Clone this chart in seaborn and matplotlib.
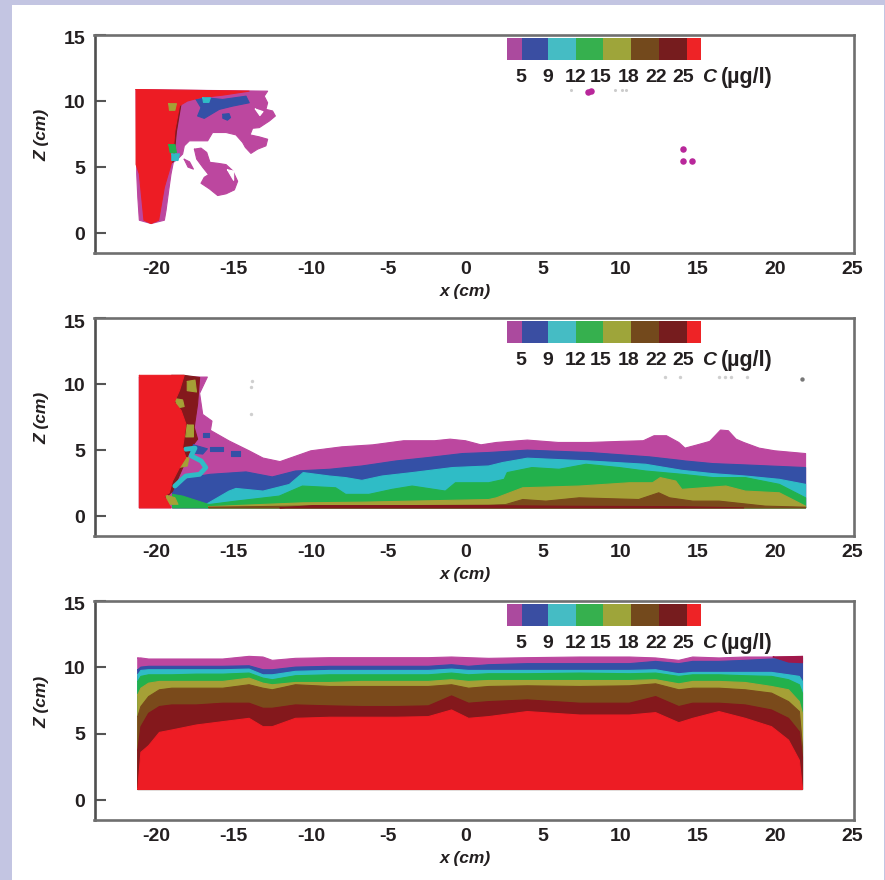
import numpy as np
import seaborn as sns
import matplotlib.pyplot as plt
from matplotlib.patches import Rectangle
from matplotlib.transforms import ScaledTranslation

# Colours of the classes, low to high
purple = "#bc479f"
blue = "#3450a6"
cyan = "#2fbcc6"
green = "#22b14c"
olive = "#a5a036"
brown = "#7a4a1b"
dark = "#84181c"
red = "#ed1c24"

# Legend
legend_colors = ["#ab4a9e", "#3a4ea2", "#45bcc4", "#36b04e", "#9ea53a", "#73491c", "#761c1e", "#ee2326"]
legend_edges = [2.68, 3.65, 5.33, 7.13, 8.88, 10.73, 12.5, 14.31, 15.21]
legend_labels = ["5", "9", "12", "15", "18", "22", "25"]
legend_label_x = [3.55, 5.3, 7.15, 8.71, 10.58, 12.33, 14.08]

x_ticks = [-20, -15, -10, -5, 0, 5, 10, 15, 20, 25]
z_ticks = [0, 5, 10, 15]

# --- Panel 1, early plume
p1_purple_x = [-21.31, -12.8, -13.02, -12.8, -12.91, -12.48, -12.3, -12.69, -13.34, -13.77, -13.94, -13.34, -12.8, -12.91, -13.45, -13.88, -14.24, -14.42, -14.85, -15.49, -16.36, -16.68, -17.22, -17.86, -18.19, -18.3, -18.62, -18.9, -19.05, -19.2, -19.37, -19.48, -20.34, -21.1, -21.2, -21.27]
p1_purple_z = [10.87, 10.75, 10.37, 9.87, 9.37, 9.25, 8.87, 8.49, 7.99, 7.94, 7.44, 7.29, 7.11, 6.61, 6.36, 6.04, 6.49, 6.87, 7.44, 7.62, 7.62, 6.99, 6.99, 6.99, 6.61, 5.99, 5.61, 5.36, 4.48, 3.23, 1.73, 0.98, 0.73, 0.98, 2.73, 4.48]
p1_blob_x = [-17.54, -17.11, -16.74, -16.53, -16.03, -15.49, -15.06, -14.74, -14.95, -15.49, -16.03, -16.57, -17.11, -16.9, -16.62, -17.0, -17.39]
p1_blob_z = [6.36, 6.44, 6.11, 5.36, 5.29, 5.19, 4.73, 3.93, 3.28, 2.98, 2.85, 3.36, 3.78, 4.23, 4.43, 4.99, 5.61]
p1_arm_x = [-18.2, -17.85, -17.6, -17.95]
p1_arm_z = [5.6, 5.4, 4.85, 5.0]
p1_blue_x = [-17.43, -16.79, -15.71, -14.2, -13.99, -15.06, -15.93, -16.9, -17.33, -17.11]
p1_blue_z = [10.12, 10.25, 10.12, 10.37, 9.87, 9.62, 9.37, 8.69, 8.87, 9.5]
p1_blue2_x = [-15.7, -15.3, -15.2, -15.4, -15.7]
p1_blue2_z = [9.0, 9.05, 8.75, 8.55, 8.7]
p1_dark_x = [-19.4, -18.4, -18.7, -18.9, -19.4, -19.4]
p1_dark_z = [9.8, 9.8, 7.7, 5.4, 5.2, 7.7]
p1_red_x = [-21.31, -14.0, -15.7, -17.2, -18.0, -18.5, -18.8, -18.95, -19.48, -19.85, -20.34, -20.8, -21.1, -21.31]
p1_red_z = [10.87, 10.75, 10.45, 10.25, 10.0, 9.65, 7.74, 5.6, 3.48, 0.98, 0.73, 0.98, 4.48, 5.2]
p1_green_x = [-19.2, -18.8, -18.7, -19.1]
p1_green_z = [6.7, 6.7, 6.1, 6.1]
p1_cyan_x = [-19.0, -18.5, -18.6, -19.0]
p1_cyan_z = [6.0, 6.0, 5.5, 5.5]
p1_cyan2_x = [-17.0, -16.5, -16.6, -16.95]
p1_cyan2_z = [10.25, 10.25, 9.9, 9.9]
p1_olive_x = [-19.2, -18.7, -18.8, -19.15]
p1_olive_z = [9.8, 9.8, 9.3, 9.3]
p1_hole_x = [-13.6, -13.1, -13.3]
p1_hole_z = [9.4, 9.2, 8.9]
p1_hole2_x = [-15.4, -15.0, -15.0]
p1_hole2_z = [4.8, 4.7, 4.0]
p1_speck_x = [14.1, 14.1, 14.65, 7.9, 8.1]
p1_speck_z = [6.35, 5.5, 5.5, 10.7, 10.75]
p1_grey_x = [6.8, 9.7, 10.1, 10.4]
p1_grey_z = [10.8, 10.8, 10.8, 10.8]

# --- Panel 2, current along the tank
p2_base = 0.63
p2_purple_x = [-21.1, -16.7, -17.2, -17.0, -16.4, -16.5, -15.3, -14.0, -13.1, -12, -10, -8, -6, -4, -2, -1, 0, 1, 2, 4, 6, 8, 10, 11.5, 12.2, 13, 13.8, 14.2, 15, 15.8, 16.5, 17, 17.5, 18, 19, 20, 22]
p2_purple_z = [10.53, 10.53, 9.3, 7.7, 7.2, 6.5, 5.7, 4.95, 4.4, 4.13, 4.95, 5.25, 5.4, 5.71, 5.71, 5.83, 5.71, 5.4, 5.58, 5.76, 5.58, 5.58, 5.66, 5.71, 6.09, 6.09, 5.58, 5.15, 5.4, 5.66, 6.52, 6.47, 5.83, 5.58, 5.15, 4.95, 4.74]
p2_blue_x = [-18.95, -17.9, -16.5, -14.2, -12.5, -11, -8.8, -6.7, -4.5, -2.4, -0.2, 1.5, 4, 8, 11.9, 13.8, 14.2, 16, 18.1, 22]
p2_blue_z = [2.03, 2.92, 3.17, 3.35, 2.97, 3.42, 3.55, 3.8, 4.18, 4.44, 4.74, 4.82, 5.0, 4.82, 4.49, 4.24, 4.18, 3.98, 3.88, 3.68]
p2_cyan_x = [-16.8, -15.3, -14.85, -13.1, -11.4, -10.5, -8.8, -7.75, -6.7, -5.4, -3.45, -0.85, 1.5, 2.4, 4, 8, 11.65, 14, 16, 18.1, 20.3, 22]
p2_cyan_z = [0.88, 1.9, 2.1, 1.9, 2.4, 3.3, 3.04, 2.92, 2.71, 3.04, 3.3, 3.68, 3.8, 4.06, 4.39, 4.18, 3.93, 3.47, 3.22, 3.04, 2.79, 2.41]
p2_green_x = [-18.95, -18.3, -16.6, -14.85, -12.05, -10.55, -8.4, -7.75, -6.25, -4.75, -3.45, -1.3, -0.65, 1.5, 2.5, 2.7, 4.3, 6.05, 7.8, 9.95, 11.65, 14, 16, 18.1, 20.3, 22]
p2_green_z = [1.65, 1.52, 0.88, 1.14, 1.52, 2.28, 2.15, 1.65, 1.65, 2.03, 2.28, 1.9, 2.53, 2.53, 2.79, 3.3, 3.68, 3.55, 3.93, 3.68, 3.42, 3.17, 2.92, 2.92, 2.41, 1.39]
p2_olive_x = [-16.6, -10.55, -6.7, 1.5, 2, 3.7, 7.35, 10.6, 12.1, 12.6, 13.6, 14, 16.85, 18.1, 20.3, 22]
p2_olive_z = [0.72, 1.01, 1.06, 1.26, 1.39, 2.15, 2.28, 2.53, 2.53, 2.92, 2.66, 2.03, 2.28, 1.9, 1.77, 0.76]
p2_brown_x = [-16.6, -11, 1.5, 2.6, 3.7, 5.2, 7.35, 11.2, 12.5, 13.2, 14.7, 16.4, 19.4, 22]
p2_brown_z = [0.68, 0.76, 0.83, 0.88, 1.26, 1.14, 1.39, 1.26, 1.77, 1.39, 1.14, 1.14, 0.76, 0.68]
p2_dark_x = [-12, -9.9, 1.5, 7, 14, 18]
p2_dark_z = [0.63, 0.8, 0.8, 0.75, 0.72, 0.63]
p2_strip_x = [-19.0, -18.2, -17.2, -17.33, -17.55, -17.33, -17.66, -18.1, -18.95, -19.7, -19.7]
p2_strip_z = [10.66, 10.66, 10.5, 8.5, 6.72, 5.83, 5.33, 4.2, 1.9, 1.0, 8.0]
p2_red_x = [-21.1, -18.2, -18.5, -18.84, -18.4, -18.09, -18.2, -18.3, -18.09, -18.5, -18.95, -19.16, -19.49, -19.06, -21.1]
p2_red_z = [10.66, 10.66, 9.52, 8.63, 8.0, 6.98, 5.96, 5.2, 4.44, 3.68, 2.66, 1.77, 1.52, 0.63, 0.63]
p2_swirl_x = [-18.1, -17.5, -17.75, -17.1, -16.8, -17.2, -18.1, -18.8]
p2_swirl_z = [5.07, 5.15, 4.57, 4.18, 3.68, 3.17, 3.04, 2.28]
p2_swirl2_x = [-17.6, -16.7, -17.0, -17.8]
p2_swirl2_z = [5.4, 5.1, 4.7, 4.8]
p2_olive_patch_x = [[-18.0, -17.5, -17.4, -18.0], [-18.8, -18.3, -18.2, -18.6], [-18.0, -17.6, -17.6, -18.1], [-18.3, -17.9, -18.0, -18.5], [-19.4, -18.8, -18.6, -19.2]]
p2_olive_patch_z = [[10.2, 10.3, 9.4, 9.5], [8.9, 8.8, 8.3, 8.2], [6.9, 6.9, 6.0, 6.0], [4.5, 4.4, 3.8, 3.7], [1.6, 1.4, 0.9, 0.9]]
p2_blue_spots_x = [[-16.5, -15.7, -15.7, -16.5], [-15.2, -14.6, -14.6, -15.2], [-17.0, -16.6, -16.6, -17.0]]
p2_blue_spots_z = [[5.2, 5.2, 4.9, 4.9], [4.95, 4.95, 4.55, 4.55], [6.3, 6.3, 6.0, 6.0]]
p2_speck_x = [16.4, 16.8, 17.2, 18.2, -13.85, -13.8, -13.85, 12.9, 13.9]
p2_speck_z = [10.52, 10.52, 10.52, 10.5, 7.74, 10.2, 9.8, 10.5, 10.5]
p2_dot_x = [21.8]
p2_dot_z = [10.35]

# --- Panel 3, filled tank
p3_base = 0.8
p3_x = [-21.2, -21, -20.5, -19.8, -19, -17.4, -15.7, -14, -13.1, -12.5, -11, -8.8, -6.7, -4.5, -2.4, -0.9, 0.2, 1.5, 4, 7.4, 10.6, 12.3, 13.8, 14.7, 16.4, 18.1, 19.8, 20.9, 21.6, 21.8]
p3_purple = [10.71, 10.71, 10.63, 10.63, 10.63, 10.63, 10.63, 10.83, 10.78, 10.53, 10.68, 10.73, 10.73, 10.73, 10.73, 10.78, 10.73, 10.68, 10.73, 10.78, 10.78, 10.71, 10.53, 10.78, 10.71, 10.78, 10.78, 10.78, 10.78, 10.83]
p3_blue = [9.82, 10.02, 10.08, 10.08, 10.08, 10.08, 10.08, 10.12, 9.82, 9.82, 10.02, 10.08, 10.08, 10.08, 10.08, 10.2, 10.08, 10.2, 10.28, 10.28, 10.28, 10.45, 10.28, 10.45, 10.45, 10.53, 10.63, 10.71, 10.71, 10.71]
p3_cyan = [9.44, 9.77, 9.82, 9.82, 9.82, 9.82, 9.82, 9.87, 9.44, 9.44, 9.7, 9.77, 9.77, 9.77, 9.77, 9.87, 9.77, 9.77, 9.77, 9.77, 9.77, 9.82, 9.52, 9.62, 9.62, 9.62, 9.62, 9.44, 9.32, 8.94]
p3_green = [8.94, 9.32, 9.44, 9.44, 9.44, 9.49, 9.49, 9.57, 9.19, 9.07, 9.37, 9.44, 9.44, 9.44, 9.44, 9.57, 9.44, 9.52, 9.52, 9.57, 9.52, 9.57, 9.32, 9.44, 9.44, 9.37, 9.32, 9.07, 8.69, 8.06]
p3_olive = [7.93, 8.43, 8.81, 8.94, 8.94, 8.94, 8.94, 9.19, 8.81, 8.69, 8.86, 8.86, 8.94, 8.94, 8.94, 9.07, 8.94, 9.01, 9.01, 9.01, 9.01, 9.07, 8.76, 8.94, 8.94, 8.86, 8.56, 8.31, 7.42, 6.54]
p3_brown = [6.29, 7.05, 7.8, 8.31, 8.43, 8.43, 8.43, 8.69, 8.43, 8.31, 8.69, 8.56, 8.56, 8.56, 8.56, 8.69, 8.43, 8.56, 8.61, 8.56, 8.61, 8.76, 8.31, 8.43, 8.43, 8.31, 8.06, 7.42, 6.67, 4.02]
p3_dark = [3.76, 5.53, 6.54, 7.05, 7.17, 7.17, 7.3, 7.3, 6.92, 6.92, 7.17, 7.1, 7.05, 7.05, 7.1, 7.85, 7.3, 7.42, 7.55, 7.3, 7.3, 7.8, 7.05, 7.3, 7.3, 7.17, 6.79, 6.16, 5.15, 3.26]
p3_red = [0.86, 3.6, 4.1, 5.1, 5.28, 5.66, 5.91, 6.16, 5.53, 5.53, 6.16, 6.24, 6.24, 6.24, 6.29, 6.79, 6.16, 6.29, 6.67, 6.41, 6.41, 6.59, 5.83, 6.16, 6.67, 6.16, 5.53, 4.52, 3.0, 0.86]
p3_tip_x = [19.9, 21.8, 21.8, 20.9]
p3_tip_z = [10.78, 10.83, 10.35, 10.4]

sns.set_theme(style="white")
plt.rcParams["font.family"] = ["Liberation Sans", "DejaVu Sans"]
plt.rcParams["font.weight"] = "bold"


def blob(ax, xs, zs, color):
    # closed patch with a thin edge, edge goes through seaborn
    ax.fill(xs, zs, color=color, lw=0, zorder=2)
    sns.lineplot(x=list(xs) + [xs[0]], y=list(zs) + [zs[0]], sort=False, estimator=None,
                 color=color, lw=0.8, ax=ax, zorder=2)


def layer(ax, xs, zs, base, color):
    blob(ax, list(xs) + [xs[-1], xs[0]], list(zs) + [base, base], color)


W, H = 885, 880
fig = plt.figure(figsize=(W / 100, H / 100), dpi=100, facecolor="white")
lav = "#c3c5e2"
fig.add_artist(Rectangle((0, 0), 12 / W, 1, transform=fig.transFigure, color=lav, lw=0))
fig.add_artist(Rectangle((0, 1 - 5 / H), 1, 5 / H, transform=fig.transFigure, color=lav, lw=0))
fig.add_artist(Rectangle((1 - 1.5 / W, 0), 1.5 / W, 1, transform=fig.transFigure, color=lav, lw=0))

tops = [35, 318, 601]
bottoms = [253, 536, 820]
axes = []
for t, b in zip(tops, bottoms):
    ax = fig.add_axes([94.5 / W, 1 - b / H, 759 / W, (b - t) / H])
    ax.set_xlim(-24.0, 25.1)
    ax.set_ylim(-1.5, 15)
    ax.set_facecolor("white")
    axes.append(ax)

# Panel 1
ax = axes[0]
blob(ax, p1_purple_x, p1_purple_z, purple)
blob(ax, p1_blob_x, p1_blob_z, purple)
blob(ax, p1_arm_x, p1_arm_z, purple)
blob(ax, p1_blue_x, p1_blue_z, blue)
blob(ax, p1_blue2_x, p1_blue2_z, blue)
blob(ax, p1_dark_x, p1_dark_z, dark)
blob(ax, p1_red_x, p1_red_z, red)
blob(ax, p1_green_x, p1_green_z, green)
blob(ax, p1_cyan_x, p1_cyan_z, cyan)
blob(ax, p1_cyan2_x, p1_cyan2_z, cyan)
blob(ax, p1_olive_x, p1_olive_z, olive)
blob(ax, p1_hole_x, p1_hole_z, "white")
blob(ax, p1_hole2_x, p1_hole2_z, "white")
sns.scatterplot(x=p1_speck_x, y=p1_speck_z, color="#b8279a", s=22, linewidth=0, ax=ax, zorder=3)
sns.scatterplot(x=p1_grey_x, y=p1_grey_z, color="#cccccc", s=5, linewidth=0, ax=ax, zorder=3)

# Panel 2
ax = axes[1]
layer(ax, p2_purple_x, p2_purple_z, p2_base, purple)
layer(ax, p2_blue_x, p2_blue_z, p2_base, blue)
layer(ax, p2_cyan_x, p2_cyan_z, p2_base, cyan)
layer(ax, p2_green_x, p2_green_z, p2_base, green)
layer(ax, p2_olive_x, p2_olive_z, p2_base, olive)
layer(ax, p2_brown_x, p2_brown_z, p2_base, brown)
layer(ax, p2_dark_x, p2_dark_z, p2_base, dark)
blob(ax, p2_strip_x, p2_strip_z, dark)
for xs, zs in zip(p2_blue_spots_x, p2_blue_spots_z):
    blob(ax, xs, zs, blue)
blob(ax, p2_swirl2_x, p2_swirl2_z, blue)
sns.lineplot(x=p2_swirl_x, y=p2_swirl_z, sort=False, estimator=None, color=cyan, lw=3.5, ax=ax, zorder=2)
for xs, zs in zip(p2_olive_patch_x, p2_olive_patch_z):
    blob(ax, xs, zs, olive)
blob(ax, p2_red_x, p2_red_z, red)
sns.scatterplot(x=p2_speck_x, y=p2_speck_z, color="#cfcfcf", s=6, linewidth=0, ax=ax, zorder=3)
sns.scatterplot(x=p2_dot_x, y=p2_dot_z, color="#777777", s=10, linewidth=0, ax=ax, zorder=3)

# Panel 3
ax = axes[2]
for zs, col in zip([p3_purple, p3_blue, p3_cyan, p3_green, p3_olive, p3_brown, p3_dark, p3_red],
                   [purple, blue, cyan, green, olive, brown, dark, red]):
    layer(ax, p3_x, zs, p3_base, col)
blob(ax, p3_tip_x, p3_tip_z, "#a0184a")

# Axes furniture, the same on all three
for ax in axes:
    lefts = np.array(legend_edges[:-1])
    widths = np.diff(legend_edges)
    tr = ax.get_xaxis_transform()
    ax.barh(0.935, widths, height=0.1, left=lefts, color=legend_colors, lw=0, transform=tr, zorder=4)
    for lab, xp in zip(legend_labels, legend_label_x):
        ax.text(xp, 0.805, lab, transform=tr, ha="center", va="center", fontsize=14, color="#231f20", fontweight="bold")
    ax.text(15.3, 0.805, "C", transform=tr, ha="left", va="center", fontsize=14, color="#231f20", fontweight="bold", fontstyle="italic")
    ax.text(16.5, 0.805, "(µg/l)", transform=tr, ha="left", va="center", fontsize=15.5, color="#231f20", fontweight="bold")

    ax.set_xticks(x_ticks, labels=[str(v) for v in x_ticks])
    ax.set_yticks(z_ticks, labels=[str(v) for v in z_ticks])
    ax.tick_params(axis="x", length=0, pad=5.5, labelsize=14, labelcolor="#231f20")
    ax.tick_params(axis="y", direction="in", length=8, width=1.5, color="#555555", pad=6.5, labelsize=14, labelcolor="#231f20", left=True)
    ax.set_xlabel("x (cm)", fontsize=12.5, fontweight="bold", fontstyle="italic", color="#231f20", va="center")
    ax.set_ylabel("Z (cm)", fontsize=12.5, fontweight="bold", fontstyle="italic", color="#231f20", va="center")
    ax.xaxis.set_label_coords(0.488, -0.175)
    ax.yaxis.set_label_coords(-0.069, 0.54)
    for name, sp in ax.spines.items():
        sp.set_visible(True)
        sp.set_linewidth(1.9)
        sp.set_color("#4f4f4f" if name == "left" else "#6f6f6f")
        sp.set_zorder(5)
    # the 15 sits a little lower than its place on the scale
    top_label = ax.get_yticklabels()[-1]
    top_label.set_transform(top_label.get_transform() + ScaledTranslation(0, -3 / 100, fig.dpi_scale_trans))

fig.savefig("out.png", dpi=100)
